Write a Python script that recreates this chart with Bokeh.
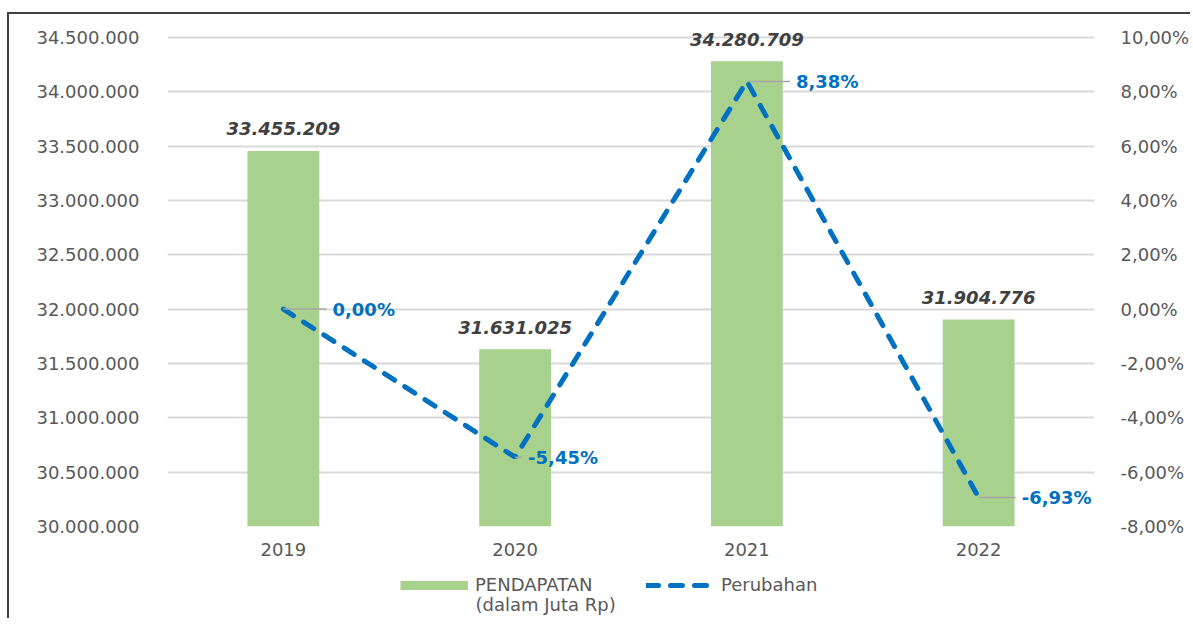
from bokeh.plotting import figure
from bokeh.layouts import column
from bokeh.models import (Range1d, LinearAxis, FixedTicker, CustomJSTickFormatter,
                          ColumnDataSource, Legend, LegendItem, Label)
from bokeh.core.properties import value
from bokeh.embed import file_html
from bokeh.resources import INLINE

# ---- data ----
years = ["2019", "2020", "2021", "2022"]
pendapatan = [33455209, 31631025, 34280709, 31904776]
perubahan = [0.00, -5.45, 8.38, -6.93]
left_ticks = [30000000, 30500000, 31000000, 31500000, 32000000, 32500000,
              33000000, 33500000, 34000000, 34500000]
right_ticks = [-8, -6, -4, -2, 0, 2, 4, 6, 8, 10]
legend_bar = "PENDAPATAN"
legend_bar_sub = "(dalam Juta Rp)"
legend_line = "Perubahan"

# label leader-line lengths (category units)
leader = [0.186, 0.03, 0.186, 0.16]

FONT = "DejaVu Sans"
GREEN = "#A9D18E"
BLUE = "#0070C0"
GRAY_TXT = "#595959"
W = 1183

xs = list(range(len(years)))

def fmt_thousands(v):
    return f"{v:,}".replace(",", ".")

def fmt_pct(v):
    return f"{v:.2f}".replace(".", ",") + "%"

src = ColumnDataSource(dict(
    x=xs,
    year=years,
    val=pendapatan,
    val_lbl=[fmt_thousands(v) for v in pendapatan],
    pct=perubahan,
    pct_lbl=[fmt_pct(v) for v in perubahan],
    lx=[a + b for a, b in zip(xs, leader)],
))

# headroom above top tick so the tallest bar label is not clipped
step_l = left_ticks[1] - left_ticks[0]
step_r = right_ticks[1] - right_ticks[0]
head = 0.2

p = figure(width=W, height=551, output_backend="svg", toolbar_location=None,
           x_range=Range1d(-0.5, len(years) - 0.5),
           y_range=Range1d(left_ticks[0], left_ticks[-1] + head * step_l),
           min_border_left=158, min_border_right=10, min_border_top=12,
           min_border_bottom=39,
           styles={"border-left": "2px solid #404040",
                   "border-top": "2px solid #404040",
                   "margin-top": "12px", "margin-left": "7px"})
p.outline_line_color = None
p.extra_y_ranges = {"pct": Range1d(right_ticks[0], right_ticks[-1] + head * step_r)}

# bars
bars = p.vbar(x="x", top="val", bottom=left_ticks[0], width=0.31, source=src,
              fill_color=GREEN, line_color=None)

# line
line = p.line(x="x", y="pct", y_range_name="pct", source=src, line_color=BLUE,
              line_width=5, line_dash="12 12", line_cap="round")

# leader lines
p.segment(x0="x", y0="pct", x1="lx", y1="pct", y_range_name="pct", source=src,
          line_color="#a6a6a6", line_width=1.5)

# bar value labels
p.text(x="x", y="val", text="val_lbl", source=src, text_align="center",
       text_baseline="middle", y_offset=-22, text_font=value(FONT),
       text_font_size="18px", text_font_style="bold italic", text_color="#404040")

# pct labels
p.text(x="lx", y="pct", text="pct_lbl", source=src, y_range_name="pct",
       text_align="left", text_baseline="middle", x_offset=6,
       text_font=value(FONT), text_font_size="18px", text_font_style="bold",
       text_color=BLUE)

# axes
p.xaxis.ticker = FixedTicker(ticks=xs)
p.xaxis.major_label_overrides = {i: y for i, y in zip(xs, years)}
p.yaxis.ticker = FixedTicker(ticks=left_ticks)
p.yaxis.formatter = CustomJSTickFormatter(code="""
return Math.round(tick).toString().replace(/\\B(?=(\\d{3})+(?!\\d))/g, ".");
""")
ra = LinearAxis(y_range_name="pct", ticker=FixedTicker(ticks=right_ticks),
                formatter=CustomJSTickFormatter(code="""
return tick.toFixed(2).replace(".", ",") + "%";
"""))
p.add_layout(ra, "right")

for ax in [p.xaxis[0], p.yaxis[0], ra]:
    ax.axis_line_color = None
    ax.major_tick_line_color = None
    ax.minor_tick_line_color = None
    ax.major_tick_out = 0
    ax.major_tick_in = 0
    ax.minor_tick_out = 0
    ax.minor_tick_in = 0
    ax.major_label_text_font = FONT
    ax.major_label_text_font_size = "18px"
    ax.major_label_text_color = GRAY_TXT
p.yaxis.major_label_standoff = 28
ra.major_label_standoff = 26
p.xaxis.major_label_standoff = 16

p.xgrid.grid_line_color = None
p.ygrid.ticker = FixedTicker(ticks=left_ticks)
p.ygrid.grid_line_color = "#d9d9d9"
p.ygrid.grid_line_width = 2

# legend strip below the chart (proxy renderers sit outside the visible range)
p2 = figure(width=W, height=55, output_backend="svg", toolbar_location=None,
            x_range=Range1d(0, 1), y_range=Range1d(0, 1),
            x_axis_type=None, y_axis_type=None, min_border=0,
            styles={"border-left": "2px solid #404040", "margin-left": "7px"})
p2.outline_line_color = None
p2.grid.visible = False
proxy = ColumnDataSource(dict(x=[-5, -4], y=[-5, -5]))
lb = p2.line(x="x", y="y", source=proxy, line_color=GREEN, line_width=9,
             line_cap="butt")
ll = p2.line(x="x", y="y", source=proxy, line_color=BLUE, line_width=5,
             line_dash="12 12", line_cap="round")

legend = Legend(items=[
    LegendItem(label=legend_bar, renderers=[lb]),
    LegendItem(label=legend_line, renderers=[ll]),
], orientation="horizontal", location=(233, 23))
legend.border_line_color = None
legend.background_fill_alpha = 0
legend.label_text_font = FONT
legend.label_text_font_size = "18px"
legend.label_text_color = GRAY_TXT
legend.label_standoff = 7
legend.label_width = 140
legend.glyph_width = 68
legend.glyph_height = 10
legend.spacing = 31
legend.padding = 0
legend.margin = 0
p2.add_layout(legend, "center")

p2.add_layout(Label(x=308, y=14, x_units="screen", y_units="screen",
                    text=legend_bar_sub, text_font=FONT, text_font_size="18px",
                    text_color=GRAY_TXT, text_align="left",
                    text_baseline="middle"))

layout = column(p, p2, spacing=0)
open("out.html", "w").write(file_html(layout, INLINE))
